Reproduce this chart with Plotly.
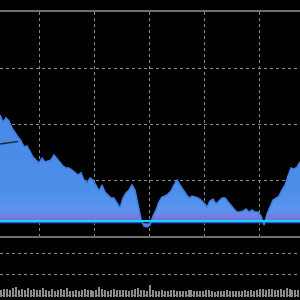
import plotly.graph_objects as go
from plotly.subplots import make_subplots

price = [110.80, 110.18, 110.54, 110.27, 109.64, 109.20, 108.84, 108.48, 107.95, 108.04,
         107.50, 107.05, 106.79, 106.52, 106.96, 106.61, 106.70, 106.79, 107.23, 106.88,
         106.52, 106.25, 106.07, 106.07, 105.89, 105.71, 105.45, 105.63, 105.00, 104.73,
         105.18, 105.00, 104.46, 104.02, 104.55, 103.93, 103.66, 103.39, 103.39, 102.95,
         102.50, 103.39, 103.84, 104.11, 104.55, 104.11, 102.77, 101.52, 100.89, 100.80,
         100.98, 101.79, 102.32, 103.04, 103.48, 103.57, 103.75, 104.02, 104.55, 105.00,
         104.55, 104.11, 103.75, 103.39, 103.57, 103.48, 103.39, 103.21, 102.95, 102.59,
         103.13, 103.30, 102.86, 103.13, 103.39, 103.39, 103.04, 102.77, 102.41, 102.14,
         102.14, 102.23, 102.41, 102.14, 102.32, 102.14, 102.14, 101.79, 100.98, 101.96,
         102.59, 103.21, 103.39, 103.57, 104.11, 104.55, 105.36, 106.07, 105.98, 106.16,
         106.61]

volume = [7000, 8000, 8000, 7000, 9000, 10000, 7000, 8000, 7000, 9000,
          7000, 8000, 7000, 7000, 9000, 7000, 6000, 8000, 6000, 7000,
          8000, 7000, 9000, 6000, 6000, 7000, 6000, 7000, 8000, 7000,
          7000, 6000, 7000, 10000, 8000, 7000, 6000, 7000, 8000, 7000,
          7000, 7000, 7000, 6000, 7000, 8000, 9000, 7000, 7000, 6000,
          12000, 7000, 6000, 6000, 7000, 6000, 6000, 7000, 7000, 6000,
          6000, 6000, 6000, 7000, 7000, 6000, 6000, 6000, 6000, 7000,
          7000, 6000, 5000, 6000, 6000, 6000, 7000, 6000, 6000, 6000,
          6000, 6000, 7000, 6000, 7000, 6000, 7000, 8000, 8000, 7000,
          8000, 8000, 7000, 7000, 8000, 7000, 9000, 8000, 7000, 7000,
          7000]

moving_avg = [108.21, 108.24, 108.28, 108.32, 108.36, 108.40, 108.44]

reference_level = 101.34
fill_floor = 101.16

x = list(range(len(price)))
n = len(price)

fig = make_subplots(rows=2, cols=1, shared_xaxes=False, vertical_spacing=0)

fig.add_trace(go.Scatter(x=x, y=[fill_floor] * n, mode="lines",
                         line=dict(color="#1a2c9c", width=1), hoverinfo="skip"), row=1, col=1)
fig.add_trace(go.Scatter(
    x=x, y=price, mode="lines", fill="tonexty",
    line=dict(color="#3f7fe2", width=1.5),
    fillgradient=dict(type="vertical", start=fill_floor, stop=max(price),
                      colorscale=[[0.0, "#6a74e4"], [0.04, "#7c72dc"], [0.08, "#6a88e8"],
                                  [0.13, "#5a94ee"], [0.22, "#5292ec"], [0.31, "#4d8eea"],
                                  [1.0, "#4a8ae6"]]),
), row=1, col=1)
fig.add_trace(go.Scatter(x=x, y=[reference_level] * n, mode="lines",
                         line=dict(color="#00dcff", width=2), hoverinfo="skip"), row=1, col=1)
fig.add_trace(go.Scatter(x=x[:len(moving_avg)], y=moving_avg, mode="lines",
                         line=dict(color="#1e2a3c", width=1.5)), row=1, col=1)

fig.add_trace(go.Bar(x=x, y=volume, width=0.4, marker=dict(color="#8c8c8c", line=dict(width=0))),
              row=2, col=1)

split = (300 - 236) / 300
grid = dict(showgrid=True, gridcolor="#8a8a8a", griddash="dot", gridwidth=1,
            zeroline=False, showticklabels=False, ticks="")

fig.update_layout(
    width=300, height=300, margin=dict(l=0, r=0, t=0, b=0),
    paper_bgcolor="black", plot_bgcolor="black", showlegend=False, bargap=0,
    xaxis=dict(domain=[0, 1], range=[0, n - 1], tick0=13, dtick=55 / 3,
               showline=True, mirror=True, linecolor="#6e6e6e", linewidth=2, **grid),
    yaxis=dict(domain=[split, 0.96], range=[100, 120], tick0=100, dtick=5,
               showline=False, **grid),
    xaxis2=dict(domain=[0, 1], range=[-0.5, n - 0.5], showgrid=False, zeroline=False,
                showticklabels=False, ticks="", showline=False),
    yaxis2=dict(domain=[0, split], range=[-3000, 61000], tick0=2000, dtick=21000,
                showline=False, **grid),
)

fig.write_html("out.html")
